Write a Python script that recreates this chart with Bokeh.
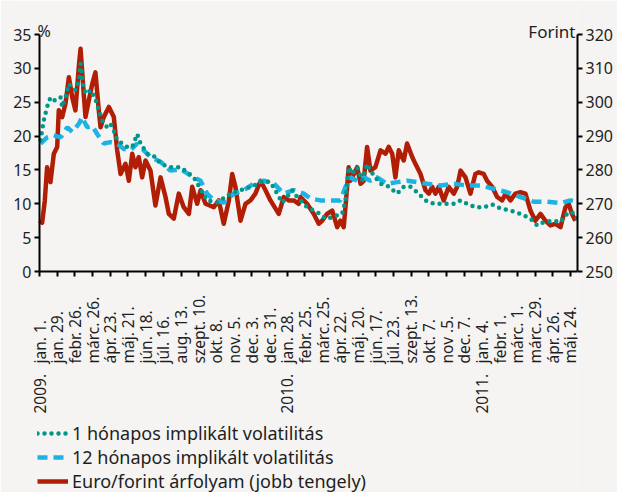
import math
from bokeh.plotting import figure
from bokeh.models import (Range1d, LinearAxis, FixedTicker, Legend, LegendItem,
                          Label, ColumnDataSource)
from bokeh.core.properties import value
from bokeh.embed import file_html
from bokeh.resources import INLINE

# ---------------- data ----------------
tick_labels = ["jan. 1.", "jan. 29.", "febr. 26.", "márc. 26.", "ápr. 23.", "máj. 21.",
               "jún. 18.", "júl. 16.", "aug. 13.", "szept. 10.", "okt. 8.", "nov. 5.",
               "dec. 3.", "dec. 31.",
               "jan. 28.", "febr. 25.", "márc. 25.", "ápr. 22.", "máj. 20.", "jún. 17.",
               "júl. 23.", "szept. 13.", "okt. 7.", "nov .5.", "dec. 7.",
               "jan. 4.", "febr. 1.", "márc. 1.", "márc. 29.", "ápr. 26.", "máj. 24."]
year_labels = ["2009.", "2010.", "2011."]
year_tick_index = [0, 14, 25]
pct_ticks = [0, 5, 10, 15, 20, 25, 30, 35]
huf_ticks = [250, 260, 270, 280, 290, 300, 310, 320]

# x in tick periods (4-week steps from 2009 jan. 1.)
red_t = [0.0, 0.15, 0.3, 0.43, 0.62, 0.81, 1.0, 1.09, 1.28, 1.47, 1.66, 1.85, 2.03, 2.22, 2.32,
         2.5, 2.6, 2.79, 2.98, 3.16, 3.35, 3.45, 3.63, 3.92, 4.2, 4.39, 4.58, 4.86, 5.05, 5.24,
         5.42, 5.61, 5.8, 5.99, 6.27, 6.55, 6.84, 7.12, 7.31, 7.59, 7.87, 8.15, 8.44, 8.63, 8.91,
         9.1, 9.38, 9.85, 10.13, 10.41, 10.7, 10.89, 11.07, 11.36, 11.64, 11.92, 12.2, 12.49,
         12.77, 13.05, 13.52, 13.8, 14.08, 14.37, 14.65,
         14.75, 15.12, 15.5, 15.78, 15.97, 16.25, 16.54, 16.82, 17.0, 17.19, 17.29, 17.47, 17.57,
         17.76, 17.95, 18.14, 18.32, 18.51, 18.7, 18.98, 19.27, 19.55, 19.73, 19.93, 20.11, 20.3,
         20.58, 20.77, 21.06, 21.24, 21.53, 21.81, 22.0, 22.19, 22.37, 22.56, 22.84, 23.12, 23.41,
         23.6, 23.79, 24.07, 24.35, 24.63, 24.82, 25.1, 25.29, 25.58, 25.86, 26.14, 26.33, 26.61,
         26.89, 27.18, 27.46, 27.74, 28.02, 28.31, 28.59, 28.87, 29.15, 29.44, 29.72, 29.9, 30.09,
         30.28]
eur_huf = [265, 264.4, 271, 280.8, 276.4, 284.8, 286.8, 297.6, 295.6, 299.6, 307.4, 301.4, 297.6,
           310.4, 315.8, 302.4, 295.6, 300.6, 305.4, 308.8, 297.6, 292.6, 295.6, 298.6, 295.6,
           285.8, 278.8, 281.8, 276.8, 284.8, 280.8, 283.8, 277.8, 282.8, 279.8, 269.5, 277.8,
           272, 267, 265.6, 273, 269, 267, 275, 270, 274, 270, 269, 271, 264.1, 271, 278.8, 275,
           265, 270, 271, 273, 276.8, 274, 271, 267, 272, 271, 271, 270,
           272, 270, 267, 264.1, 265, 267, 268, 263.1, 265, 263.1, 269, 280.8, 276.8, 278.8,
           280.8, 275.9, 276.8, 286.8, 279.8, 280.8, 285.8, 284.8, 286.8, 284.8, 277.8, 285.8,
           282.8, 287.8, 283.8, 281.8, 278.8, 274, 273, 275, 273, 275, 271, 275, 273, 275, 279.8,
           277.8, 273, 278.8, 279.3, 278.8, 276.8, 275, 272, 271, 273, 271, 273, 273.4, 273, 268,
           265, 267, 265, 263.6, 264.1, 263.1, 269, 270, 267, 265]

vol1_t = [0.06, 0.24, 0.43, 0.62, 0.81, 1.0, 1.19, 1.28, 1.47, 1.66, 1.85, 2.03, 2.22, 2.32, 2.5,
          2.69, 2.88, 3.16, 3.35, 3.54, 3.82, 4.01, 4.2, 4.39, 4.67, 4.95, 5.24, 5.52, 5.71, 6.08,
          6.55, 6.84, 7.4, 7.97, 8.72, 9.47, 10.04, 10.79, 11.36, 12.11, 12.67, 13.05, 13.43,
          13.71, 13.99, 14.27, 14.56,
          14.75, 15.12, 15.5, 15.87, 16.16, 16.54, 16.82, 17.1, 17.29, 17.47, 17.66, 17.95, 18.23,
          18.51, 18.7, 18.98, 19.27, 19.64, 20.21, 20.58, 20.96, 21.34, 21.81, 22.28, 22.84, 23.41,
          23.79, 24.16, 24.63, 25.1, 25.58, 26.05, 26.61, 27.18, 27.74, 28.12, 28.5, 29.06, 29.44,
          29.81, 30.09, 30.38]
vol1 = [19.4, 22.3, 24.3, 25.7, 25.3, 25.3, 25.7, 24.3, 25.7, 27.7, 27.2, 26.8, 28.2, 30.7, 26.8,
        26.2, 26.8, 25.5, 23.8, 22.3, 21.3, 21.8, 20.8, 19.4, 18.9, 18.4, 18.4, 20.3, 18.9, 17.4,
        16.9, 15.9, 15.4, 15.4, 13.9, 10.5, 10.2, 11.5, 12.0, 12.7, 13.4, 13.2, 11.5, 10.2, 11.0,
        12.0, 11.0,
        10.5, 9.5, 9.0, 8.5, 7.8, 8.0, 8.3, 8.5, 10.5, 15.4, 14.4, 15.4, 13.4, 15.9, 14.9, 13.9,
        12.95, 12.7, 11.5, 12.5, 12.5, 11.7, 10.5, 10.0, 10.0, 10.0, 10.5, 10.0, 9.5, 9.5, 9.9,
        9.3, 9.0, 8.5, 7.8, 6.8, 7.3, 7.5, 7.3, 8.5, 8.8, 7.8]

vol12_t = [0.06, 0.43, 0.81, 1.19, 1.57, 1.85, 2.22, 2.41, 2.69, 2.98, 3.26, 3.63, 4.01, 4.39,
           4.77, 5.14, 5.52, 5.89, 6.27, 6.84, 7.4, 7.97, 8.53, 9.1, 9.47, 9.85, 10.41, 10.98,
           11.54, 12.11, 12.67, 13.24, 13.8, 14.37, 14.93, 15.3, 15.87, 16.63, 17.0, 17.29, 17.57,
           17.95, 18.32, 18.7, 19.08, 19.64, 20.21, 20.77, 21.34, 21.9, 22.66, 23.41, 24.16, 24.91,
           25.67, 26.42, 27.18, 27.93, 28.69, 29.44, 30.0, 30.38]
vol12 = [18.9, 19.8, 20.1, 19.8, 21.3, 20.6, 21.8, 22.8, 21.3, 21.5, 20.3, 18.9, 19.1, 18.9, 18.1,
         17.9, 18.9, 17.9, 16.9, 16.2, 14.9, 15.1, 14.2, 13.4, 11.5, 10.5, 10.2, 11.5, 12.0, 13.0,
         13.4, 13.0, 11.5, 12.0, 11.5, 10.8, 10.5, 10.5, 10.5, 12.5, 13.9, 13.4, 13.9, 13.4, 13.9,
         12.95, 13.2, 13.4, 13.2, 12.95, 12.7, 12.95, 12.7, 12.7, 12.2, 11.7, 11.0, 10.3, 10.3,
         10.1, 10.5, 10.3]

series_names = ["1 hónapos implikált volatilitás",
                "12 hónapos implikált volatilitás",
                "Euro/forint árfolyam (jobb tengely)"]

# ---------------- layout / styles ----------------
BG = "#F5F4F2"
TXT = "#1E1E1E"
FONT = "Noto Sans"
RED = "#B01E06"
TEAL = "#00968A"
BLUE = "#1CB4E4"

X_END = 30.4
AXIS_L_PX, AXIS_R_PX = 39, 577          # page columns of the two y axes
FRAME_L_PX, FRAME_T_PX, PAGE_H = 10, 4, 492
FRAME_W = AXIS_R_PX - FRAME_L_PX
FRAME_H = PAGE_H - FRAME_T_PX
RIGHT_B = 40
xpu = (AXIS_R_PX - AXIS_L_PX) / X_END
x_start = -(AXIS_L_PX - FRAME_L_PX) / xpu
Y_TOP_PX, Y_ZERO_PX = 34, 271           # page rows of 35 % and of 0 %
ppu = (Y_ZERO_PX - Y_TOP_PX) / 35.0
y_end = 35 + (Y_TOP_PX - FRAME_T_PX) / ppu
y_start = -(PAGE_H - Y_ZERO_PX) / ppu

p = figure(title=None, frame_width=FRAME_W, frame_height=FRAME_H,
           output_backend="svg", toolbar_location=None, x_axis_location="above",
           x_range=Range1d(x_start, X_END), y_range=Range1d(y_start, y_end),
           min_border_left=FRAME_L_PX, min_border_right=RIGHT_B, min_border_top=FRAME_T_PX,
           min_border_bottom=0,
           background_fill_color=BG, border_fill_color=BG, outline_line_color=None)
p.xgrid.visible = False
p.ygrid.visible = False
p.extra_y_ranges = {"huf": Range1d(250 + 2 * y_start, 250 + 2 * y_end)}

# x axis drawn at y = 0, ticks pointing down
xa = p.xaxis[0]
xa.fixed_location = 0
xa.bounds = (0, X_END)
xa.ticker = FixedTicker(ticks=list(range(len(tick_labels))))
xa.major_label_text_font_size = "1px"
xa.major_label_text_color = None
xa.major_label_standoff = 0
xa.axis_line_width = 2
xa.axis_line_color = "black"
xa.major_tick_line_width = 2
xa.major_tick_in = 5
xa.major_tick_out = 0
xa.minor_tick_line_color = None

# left axis drawn at x = 0 (its numbers are drawn as text below)
ya = p.yaxis[0]
ya.fixed_location = 0
ya.ticker = FixedTicker(ticks=pct_ticks)
ya.bounds = (0, 35)
ya.major_label_text_font_size = "1px"
ya.major_label_text_color = None
ya.major_label_standoff = 0

ry = LinearAxis(y_range_name="huf", ticker=FixedTicker(ticks=huf_ticks), bounds=(250, 320))
p.add_layout(ry, "right")
ry.major_label_text_font = FONT
ry.major_label_text_font_size = "16px"
ry.major_label_text_color = TXT
ry.major_label_standoff = 3
for ax in (ya, ry):
    ax.axis_line_width = 2
    ax.axis_line_color = "black"
    ax.major_tick_line_width = 2
    ax.major_tick_in = 0
    ax.major_tick_out = 5
    ax.minor_tick_line_color = None

# lines
r_red = p.line(red_t, eur_huf, y_range_name="huf", line_color=RED, line_width=4.5,
               line_join="round")
r_blue = p.line(vol12_t, vol12, line_color=BLUE, line_width=4.5, line_dash="10 6")
r_teal = p.line(vol1_t, vol1, line_color=TEAL, line_width=4.5, line_dash="0 7",
                line_cap="round")

# left-axis numbers
pct_src = ColumnDataSource(dict(y=pct_ticks, text=[str(v) for v in pct_ticks]))
p.text(x=-8 / xpu, y="y", text="text", source=pct_src, text_align="right",
       text_baseline="middle", text_font=value(FONT), text_font_size="16px",
       text_color=TXT)

# x tick labels (vertical, start-aligned below the axis)
date_y = -(363 - Y_ZERO_PX) / ppu
year_y = -(413 - Y_ZERO_PX) / ppu
tick_src = ColumnDataSource(dict(x=list(range(len(tick_labels))), text=tick_labels))
p.text(x="x", y=date_y, text="text", source=tick_src, angle=math.pi / 2,
       text_align="left", text_baseline="middle", text_font=value(FONT),
       text_font_size="15.5px", text_color=TXT)
year_src = ColumnDataSource(dict(x=year_tick_index, text=year_labels))
p.text(x="x", y=year_y, text="text", source=year_src, angle=math.pi / 2,
       text_align="left", text_baseline="middle", text_font=value(FONT),
       text_font_size="15.5px", text_color=TXT)

# unit labels
p.add_layout(Label(x=-2 / xpu, y=35 + 4 / ppu, text="%", text_font=FONT,
                   text_font_size="16px", text_color=TXT, text_align="left",
                   text_baseline="alphabetic"))
p.add_layout(Label(x=X_END - 2 / xpu, y=35 + 3 / ppu, text="Forint", text_font=FONT,
                   text_font_size="17px", text_color=TXT, text_align="right",
                   text_baseline="alphabetic"))

legend = Legend(items=[LegendItem(label=series_names[0], renderers=[r_teal]),
                       LegendItem(label=series_names[1], renderers=[r_blue]),
                       LegendItem(label=series_names[2], renderers=[r_red])],
                location=(37 - FRAME_L_PX, -1), orientation="vertical",
                label_text_font=FONT, label_text_font_size="18px", label_text_color=TXT,
                glyph_width=31, glyph_height=22, label_height=22, label_standoff=4,
                spacing=0, padding=0, margin=0,
                border_line_color=None, background_fill_alpha=0)
p.add_layout(legend)

open("out.html", "w").write(file_html(p, INLINE))
